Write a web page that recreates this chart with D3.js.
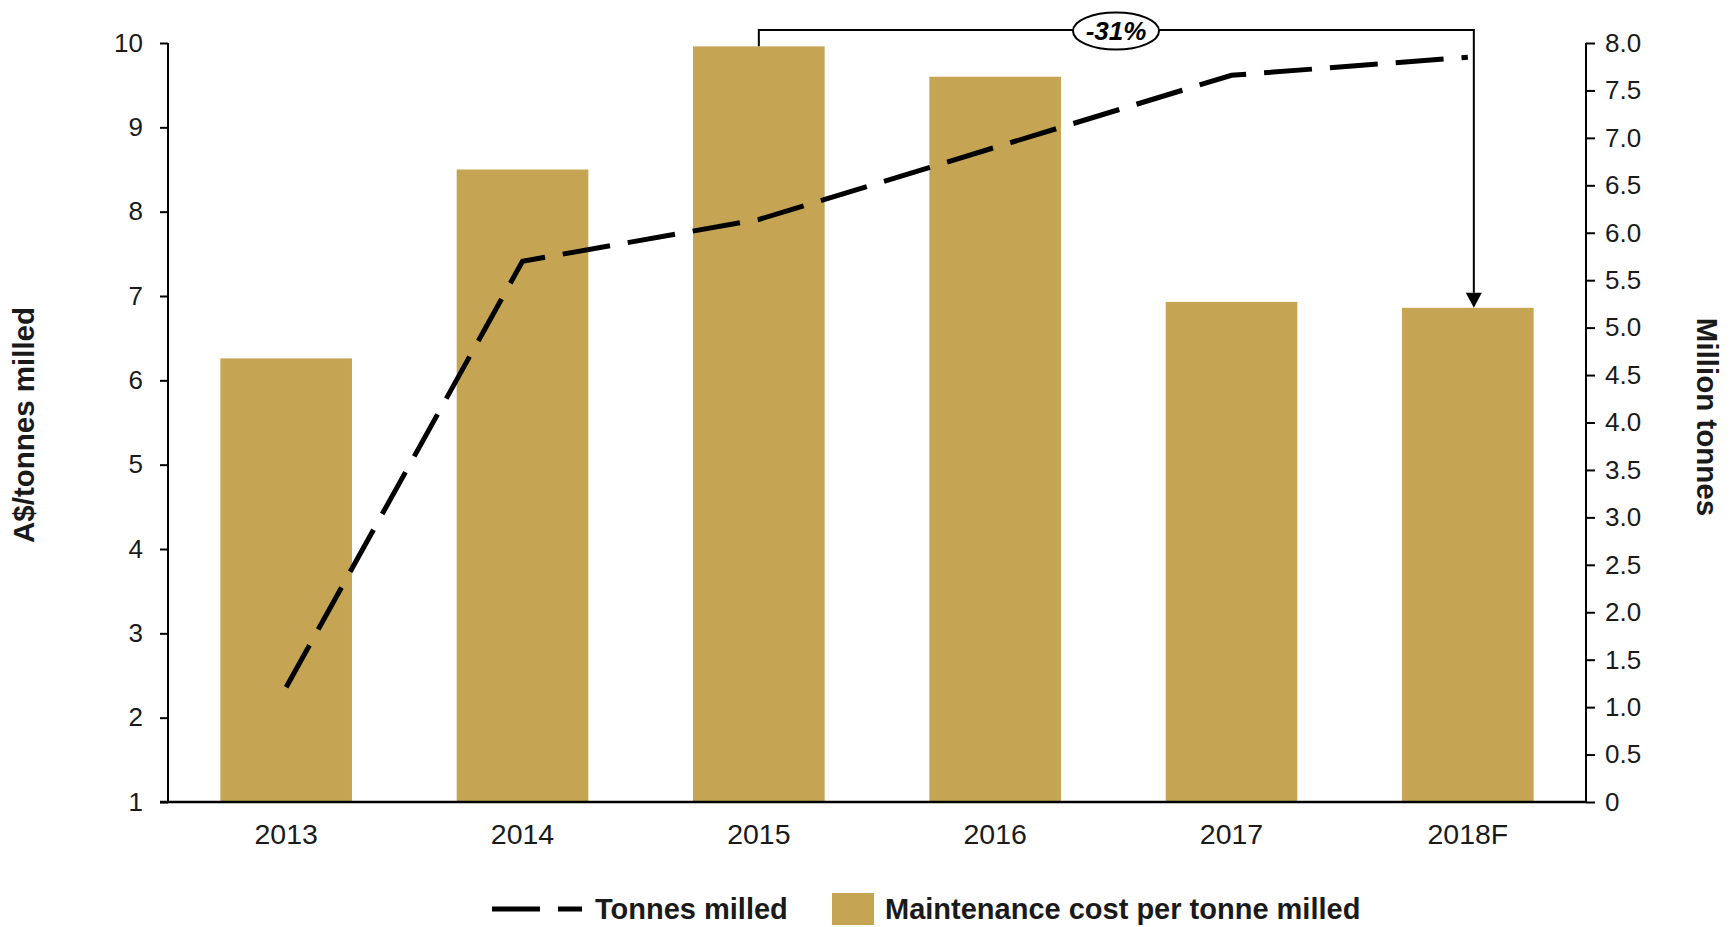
<!DOCTYPE html>
<html>
<head>
<meta charset="utf-8">
<script src="https://cdn.jsdelivr.net/npm/d3@7"></script>
<style>
  html, body { margin: 0; padding: 0; background: #fff; }
  svg { display: block; font-family: "Liberation Sans", Arial, sans-serif; }
</style>
</head>
<body>
<svg id="chart" width="1735" height="927"></svg>
<script>
// Maintenance cost per tonne milled (left axis, A$/t) and tonnes milled (right axis, Mt)
const categories = ["2013", "2014", "2015", "2016", "2017", "2018F"];
const costPerTonne = [6.26, 8.5, 9.96, 9.6, 6.93, 6.86];
const tonnesMilled = [1.21, 5.70, 6.14, 6.9, 7.66, 7.85];
const leftTicks = [1, 2, 3, 4, 5, 6, 7, 8, 9, 10];
const rightTicks = [0, 0.5, 1, 1.5, 2, 2.5, 3, 3.5, 4, 4.5, 5, 5.5, 6, 6.5, 7, 7.5, 8];
const changeLabel = "-31%";
const legendLabels = ["Tonnes milled", "Maintenance cost per tonne milled"];
const axisTitles = ["A$/tonnes milled", "Million tonnes"];

const gold = "#C5A553";
const ink = "#1a1a1a";

const svg = d3.select("#chart");
const plot = { left: 168, right: 1586, top: 43, bottom: 802 };

const x = d3.scaleBand()
  .domain(categories)
  .range([plot.left, plot.right])
  .paddingInner(0.443)
  .paddingOuter(0.2215);

const yL = d3.scaleLinear().domain([1, 10]).range([plot.bottom, plot.top]);
const yR = d3.scaleLinear().domain([0, 8]).range([plot.bottom, plot.top]);

// Bars
svg.append("g").selectAll("rect")
  .data(categories)
  .join("rect")
  .attr("x", d => x(d))
  .attr("width", x.bandwidth())
  .attr("y", (d, i) => yL(costPerTonne[i]))
  .attr("height", (d, i) => yL(1) - yL(costPerTonne[i]))
  .attr("fill", gold);

// Left axis
const axL = svg.append("g")
  .attr("transform", `translate(${plot.left},0)`)
  .call(d3.axisLeft(yL).tickValues(leftTicks).tickSize(8).tickPadding(17).tickFormat(d3.format("d")));
// Right axis
const axR = svg.append("g")
  .attr("transform", `translate(${plot.right},0)`)
  .call(d3.axisRight(yR).tickValues(rightTicks).tickSize(9).tickPadding(10)
    .tickFormat(d => d === 0 ? "0" : d3.format(".1f")(d)));
// Bottom axis
const axB = svg.append("g")
  .attr("transform", `translate(0,${plot.bottom})`)
  .call(d3.axisBottom(x).tickSize(0).tickPadding(22));

[axL, axR, axB].forEach(g => {
  g.select(".domain").remove();
  g.selectAll("line").attr("stroke", "#000").attr("stroke-width", 2);
  g.selectAll("text").attr("fill", ink).style("font-size", "26px");
});
axB.selectAll("text").style("font-size", "28.5px");

svg.append("line")
  .attr("x1", plot.left).attr("x2", plot.left)
  .attr("y1", plot.top).attr("y2", plot.bottom)
  .attr("stroke", "#000").attr("stroke-width", 2);
svg.append("line")
  .attr("x1", plot.right).attr("x2", plot.right)
  .attr("y1", plot.top).attr("y2", plot.bottom)
  .attr("stroke", "#000").attr("stroke-width", 2);
svg.append("line")
  .attr("x1", plot.left - 8).attr("x2", plot.right)
  .attr("y1", plot.bottom).attr("y2", plot.bottom)
  .attr("stroke", "#000").attr("stroke-width", 2.5);

// Dashed line for tonnes milled
const line = d3.line()
  .x((d, i) => x(categories[i]) + x.bandwidth() / 2)
  .y(d => yR(d));
svg.append("path")
  .datum(tonnesMilled)
  .attr("d", line)
  .attr("fill", "none")
  .attr("stroke", "#000")
  .attr("stroke-width", 5)
  .attr("stroke-dasharray", "48,18");

// Axis titles
svg.append("text")
  .attr("transform", `translate(34,425) rotate(-90)`)
  .attr("text-anchor", "middle")
  .attr("fill", ink)
  .style("font-size", "29.5px").style("font-weight", "bold")
  .text(axisTitles[0]);
svg.append("text")
  .attr("transform", `translate(1697,417) rotate(90)`)
  .attr("text-anchor", "middle")
  .attr("fill", ink)
  .style("font-size", "29.5px").style("font-weight", "bold")
  .text(axisTitles[1]);

// Change bracket from 2015 to 2018F
const i0 = categories.indexOf("2015"), i1 = categories.indexOf("2018F");
const bx0 = x(categories[i0]) + x.bandwidth() / 2;
const bx1 = x(categories[i1]) + x.bandwidth() / 2 + 6;
const by = 30;
const yTop0 = yL(costPerTonne[i0]);
const yTop1 = yL(costPerTonne[i1]);
svg.append("path")
  .attr("d", `M${bx0},${yTop0} V${by} H${bx1} V${yTop1 - 15}`)
  .attr("fill", "none").attr("stroke", "#000").attr("stroke-width", 2);
svg.append("path")
  .attr("d", `M${bx1 - 8},${yTop1 - 15} L${bx1 + 8},${yTop1 - 15} L${bx1},${yTop1} Z`)
  .attr("fill", "#000");
const ex = 1116, ey = 31;
svg.append("ellipse")
  .attr("cx", ex).attr("cy", ey).attr("rx", 43).attr("ry", 18.5)
  .attr("fill", "#fff").attr("stroke", "#000").attr("stroke-width", 2);
svg.append("text")
  .attr("x", ex).attr("y", ey + 9)
  .attr("text-anchor", "middle")
  .attr("fill", "#000")
  .style("font-size", "26px").style("font-weight", "bold").style("font-style", "italic")
  .text(changeLabel);

// Legend
const lg = svg.append("g");
lg.append("line")
  .attr("x1", 492).attr("x2", 582).attr("y1", 909).attr("y2", 909)
  .attr("stroke", "#000").attr("stroke-width", 5).attr("stroke-dasharray", "48,18");
lg.append("text")
  .attr("x", 595).attr("y", 919)
  .attr("fill", ink)
  .style("font-size", "29px").style("font-weight", "bold")
  .text(legendLabels[0]);
lg.append("rect")
  .attr("x", 832).attr("y", 893).attr("width", 42).attr("height", 32)
  .attr("fill", gold);
lg.append("text")
  .attr("x", 885).attr("y", 919)
  .attr("fill", ink)
  .style("font-size", "29px").style("font-weight", "bold")
  .text(legendLabels[1]);
</script>
</body>
</html>
